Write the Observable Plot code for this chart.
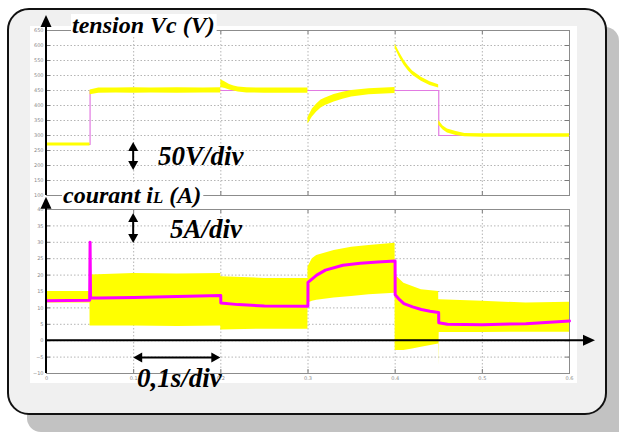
<!DOCTYPE html>
<html><head><meta charset="utf-8">
<script src="https://cdn.jsdelivr.net/npm/d3@7"></script>
<script src="https://cdn.jsdelivr.net/npm/@observablehq/plot@0.6"></script>
<style>
body{margin:0;background:#fff;}
#wrap{position:relative;width:619px;height:432px;overflow:hidden;background:#fff;}
#shadow{position:absolute;left:27px;top:27px;width:592px;height:405px;background:#c2c2c2;border-radius:0 14px 0 14px;}
#box{position:absolute;left:7px;top:8px;width:600px;height:407px;box-sizing:border-box;background:#f0f0f0;border:2px solid #111;border-radius:22px;}
#white{position:absolute;left:30px;top:26px;width:547px;height:357px;background:#fff;}
#wrap svg{position:absolute;left:0;top:0;}
</style></head>
<body><div id="wrap"><div id="shadow"></div><div id="box"></div><div id="white"></div></div>
<script>
// ---- ticks ----
const xTicks = [0, 0.1, 0.2, 0.3, 0.4, 0.5, 0.6];
const vcTicks = [100, 150, 200, 250, 300, 350, 400, 450, 500, 550, 600, 650];
const ilTicks = [-10, -5, 0, 5, 10, 15, 20, 25, 30, 35, 40];

// ---- Vc reference (V) ----
const vrefTime  = [0, 0.05, 0.05, 0.45, 0.45, 0.6];
const vrefValue = [270, 270, 450, 450, 300, 300];

// ---- Vc measured band (V) ----
const vcTime = [0, 0.0499, 0.05, 0.06, 0.08, 0.1, 0.12, 0.15, 0.18, 0.1999,
  0.2, 0.205, 0.21, 0.215, 0.22, 0.23, 0.25, 0.2999,
  0.3, 0.305, 0.31, 0.315, 0.32, 0.33, 0.34, 0.35, 0.37, 0.3999,
  0.4, 0.405, 0.41, 0.415, 0.42, 0.43, 0.44, 0.4499,
  0.45, 0.455, 0.46, 0.47, 0.48, 0.5, 0.6];
const vcLow = [265, 265, 436, 441, 442, 441, 442, 441, 442, 442,
  460, 457, 452, 448, 445, 442, 441, 441,
  338, 362, 378, 392, 400, 412, 421, 428, 436, 440,
  590, 560, 535, 516, 501, 481, 467, 458,
  334, 318, 308, 300, 296, 294, 294];
const vcHigh = [275, 275, 452, 458, 458, 459, 458, 459, 458, 459,
  486, 478, 470, 465, 462, 459, 458, 458,
  360, 388, 405, 418, 425, 437, 444, 450, 456, 460,
  605, 577, 552, 532, 515, 494, 479, 469,
  350, 332, 322, 313, 307, 306, 306];

// ---- iL measured band (A) ----
const ilTime = [0, 0.0499, 0.05, 0.0505, 0.1, 0.15, 0.1999,
  0.2, 0.25, 0.2999,
  0.3, 0.305, 0.31, 0.33, 0.35, 0.37, 0.3999,
  0.4, 0.41, 0.42, 0.43, 0.4499,
  0.45, 0.4505, 0.5, 0.55, 0.6];
const ilLow = [11.5, 11.5, 4.5, 4.5, 4.5, 4.3, 4.5,
  3.3, 3.5, 3.5,
  11.5, 12, 12.3, 13, 13.5, 14, 14.5,
  -3, -3, -2.5, -2, -1,
  -7.5, 2.5, 2.5, 2.6, 2.6];
const ilHigh = [15, 15, 31, 20, 20.5, 20.3, 20.5,
  19.5, 19, 19,
  22.5, 25, 26, 27.5, 28.5, 29, 29.7,
  20, 17.5, 16.5, 15.5, 15,
  12.5, 12.5, 12, 11.5, 11.7];

// ---- iL mean (A) ----
const imTime = [0, 0.0495, 0.05, 0.0505, 0.06, 0.1, 0.15, 0.1999,
  0.2, 0.22, 0.25, 0.2999,
  0.3, 0.31, 0.32, 0.34, 0.36, 0.38, 0.3999,
  0.4, 0.405, 0.41, 0.42, 0.43, 0.44, 0.4499,
  0.45, 0.46, 0.5, 0.55, 0.6];
const imValue = [12.2, 12.3, 30, 13, 13, 13.2, 13.5, 13.8,
  11.5, 11, 10.6, 10.5,
  17.8, 20, 21.5, 23, 23.6, 24, 24.3,
  14, 12.5, 11.3, 10.3, 9.5, 9, 8.6,
  5.5, 5, 4.9, 5.2, 6];

const vref = vrefTime.map((t, i) => ({t, v: vrefValue[i]}));
const vc = vcTime.map((t, i) => ({t, lo: vcLow[i], hi: vcHigh[i]}));
const il = ilTime.map((t, i) => ({t, lo: ilLow[i], hi: ilHigh[i]}));
const im = imTime.map((t, i) => ({t, v: imValue[i]}));

const W = 619, H = 432;
const gridStyle = {stroke: "#b5b5b5", strokeOpacity: 1, strokeDasharray: "1.5,2"};
const tickStyle = {stroke: "#7a7a7a"};
const baseStyle = {overflow: "visible", background: "transparent", fontFamily: "DejaVu Sans"};

const topPlot = Plot.plot({
  width: W, height: H, marginLeft: 46, marginRight: 50, marginTop: 30, marginBottom: 237,
  x: {domain: [0, 0.6], axis: null}, y: {domain: [100, 650], axis: null},
  style: baseStyle,
  marks: [
    Plot.gridY(vcTicks, gridStyle),
    Plot.gridX(xTicks, gridStyle),
    Plot.ruleX(xTicks, {...tickStyle, insetBottom: 161}),
    Plot.ruleX(xTicks, {...tickStyle, insetTop: 161}),
    Plot.ruleY(vcTicks, {...tickStyle, insetRight: 519}),
    Plot.ruleY(vcTicks, {...tickStyle, insetLeft: 519}),
    Plot.frame({stroke: "#8c8c8c"}),
    Plot.line(vref, {x: "t", y: "v", stroke: "#e27ae2", strokeWidth: 1.2}),
    Plot.areaY(vc, {x: "t", y1: "lo", y2: "hi", fill: "#ffff00"}),
    Plot.axisY({ticks: vcTicks, tickSize: 0, tickPadding: 3, fontSize: 5, color: "#8a8a8a", label: null})
  ]
});

const botPlot = Plot.plot({
  width: W, height: H, marginLeft: 46, marginRight: 50, marginTop: 209, marginBottom: 59,
  x: {domain: [0, 0.6], axis: null}, y: {domain: [-10, 40], axis: null},
  style: baseStyle,
  marks: [
    Plot.gridY(ilTicks, gridStyle),
    Plot.gridX(xTicks, gridStyle),
    Plot.ruleX(xTicks, {...tickStyle, insetBottom: 160}),
    Plot.ruleX(xTicks, {...tickStyle, insetTop: 160}),
    Plot.ruleY(ilTicks, {...tickStyle, insetRight: 519}),
    Plot.ruleY(ilTicks, {...tickStyle, insetLeft: 519}),
    Plot.frame({stroke: "#8c8c8c"}),
    Plot.areaY(il, {x: "t", y1: "lo", y2: "hi", fill: "#ffff00"}),
    Plot.line(im, {x: "t", y: "v", stroke: "#ff00ff", strokeWidth: 3}),
    Plot.axisY({ticks: ilTicks, tickSize: 0, tickPadding: 3, fontSize: 5, color: "#8a8a8a", label: null}),
    Plot.axisX({ticks: xTicks, tickSize: 0, tickPadding: 3, fontSize: 5, color: "#8a8a8a", label: null, tickFormat: d => String(d)})
  ]
});

const wrap = document.getElementById("wrap");
wrap.appendChild(topPlot);
wrap.appendChild(botPlot);

const FONT = "'Liberation Serif', 'DejaVu Serif', serif";

function arrow(g, x1, y1, x2, y2, head, width, both) {
  const dx = x2 - x1, dy = y2 - y1, L = Math.hypot(dx, dy), ux = dx / L, uy = dy / L;
  const px = -uy, py = ux;
  const tri = (tx, ty, ux, uy) =>
    `M${tx},${ty}L${tx - ux * head + px * width / 2},${ty - uy * head + py * width / 2}` +
    `L${tx - ux * head - px * width / 2},${ty - uy * head - py * width / 2}Z`;
  const sx = both ? x1 + ux * head * 0.7 : x1, sy = both ? y1 + uy * head * 0.7 : y1;
  g.append("line").attr("x1", sx).attr("y1", sy)
    .attr("x2", x2 - ux * head * 0.7).attr("y2", y2 - uy * head * 0.7)
    .attr("stroke", "#000").attr("stroke-width", 2);
  g.append("path").attr("d", tri(x2, y2, ux, uy)).attr("fill", "#000");
  if (both) g.append("path").attr("d", tri(x1, y1, -ux, -uy)).attr("fill", "#000");
}

function label(g, x, y, parts, size, bg) {
  const t = g.append("text").attr("x", x).attr("y", y).attr("text-anchor", "start")
    .attr("font-family", FONT).attr("font-style", "italic").attr("font-weight", "bold")
    .attr("font-size", size).attr("fill", "#000");
  parts.forEach(([s, k]) => t.append("tspan").attr("font-size", size * k).text(s));
  if (bg) {
    const b = t.node().getBBox();
    g.insert("rect", () => t.node()).attr("x", b.x - 1).attr("y", b.y + 2)
      .attr("width", b.width + 3).attr("height", b.height - 4).attr("fill", "#fff");
  }
}

function decorate(plot, fn) {
  const sx = plot.scale("x").apply, sy = plot.scale("y").apply;
  const g = d3.select(plot).append("g");
  fn(g, sx, sy);
}

decorate(topPlot, (g, x, y) => {
  label(g, x(0.0298), y(640), [["tension Vc (V)", 1]], 24, true);
  arrow(g, x(0), y(100), x(0), y(700), 12, 11, false);
  arrow(g, x(0.1), y(183), x(0.1), y(277), 9, 10, true);
  label(g, x(0.1285), y(200), [["50V/div", 1]], 27, false);
});

decorate(botPlot, (g, x, y) => {
  label(g, x(0.0195), y(41.8), [["courant i", 1], ["L", 0.7], [" (A)", 1]], 24, true);
  arrow(g, x(0), y(-10), x(0), y(43.7), 12, 11, false);
  arrow(g, x(0), y(0), x(0.6298), y(0), 12, 11, false);
  arrow(g, x(0.1), y(29.6), x(0.1), y(38.8), 9, 10, true);
  label(g, x(0.1423), y(31.2), [["5A/div", 1]], 27, false);
  arrow(g, x(0.1), y(-5.3), x(0.2), y(-5.3), 9, 10, true);
  label(g, x(0.1044), y(-14.2), [["0,1s/div", 1]], 27, false);
});
</script>
</body></html>
